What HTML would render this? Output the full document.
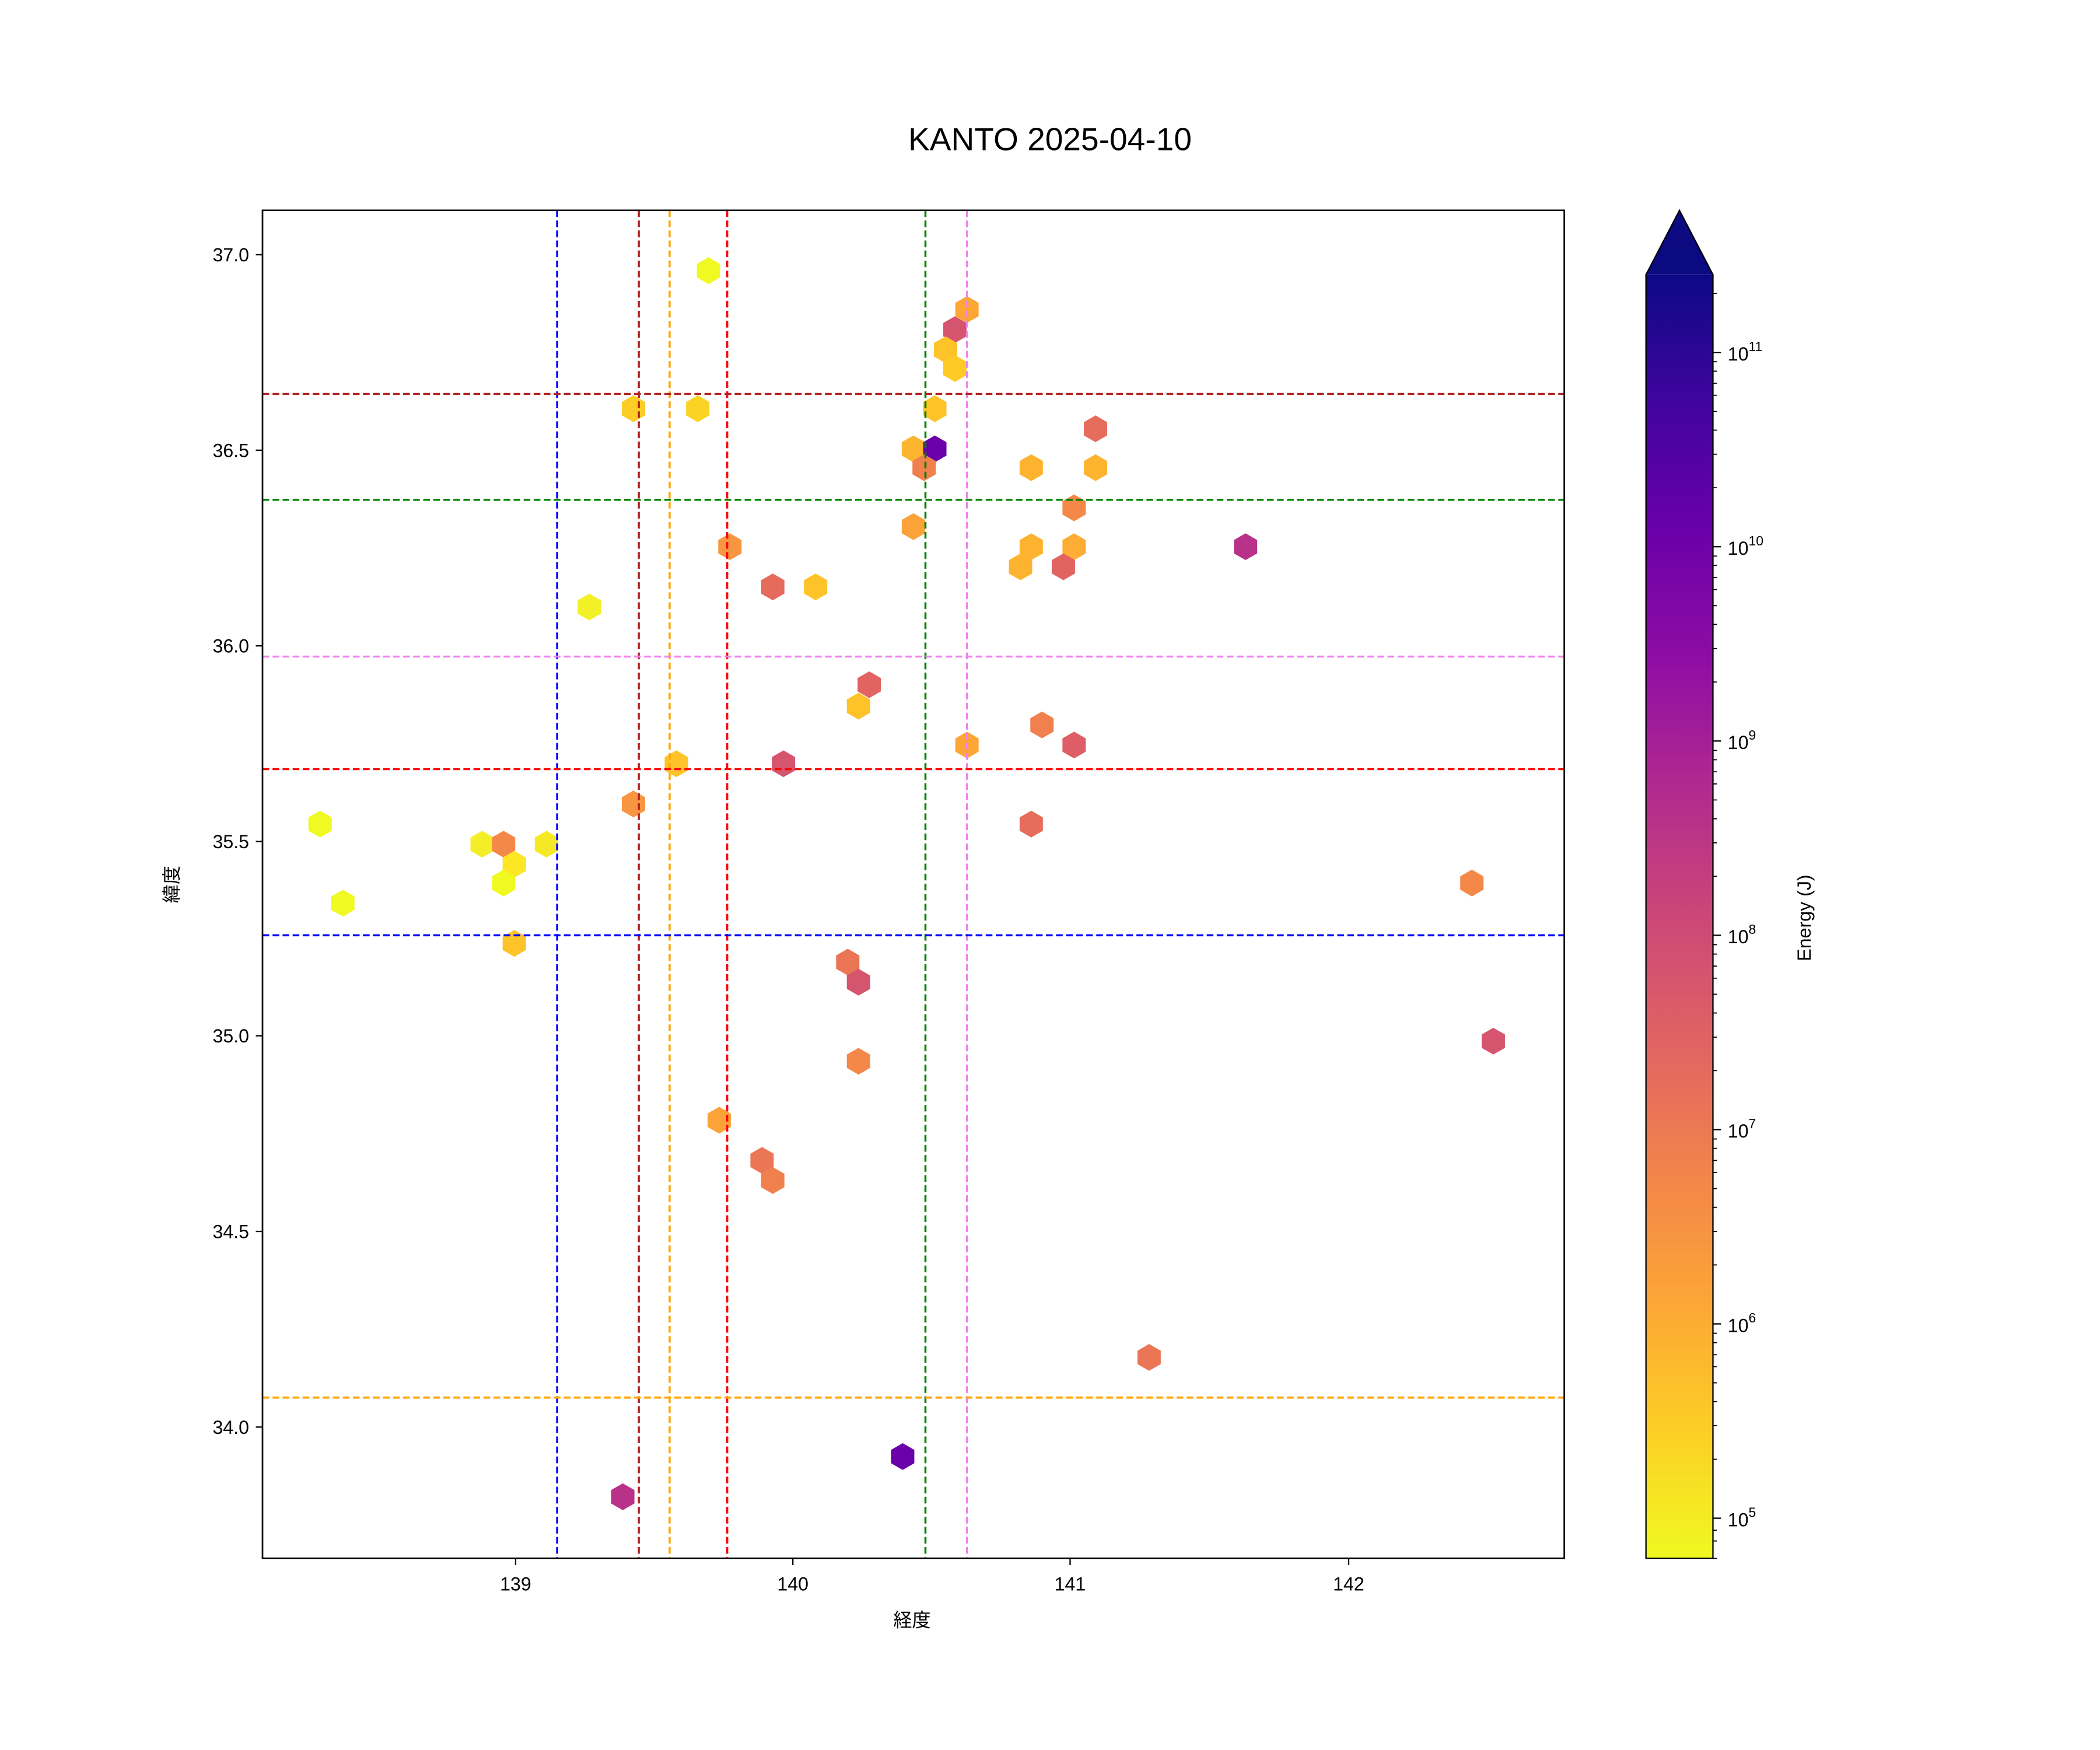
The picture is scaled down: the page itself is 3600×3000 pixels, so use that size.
<!DOCTYPE html>
<html><head><meta charset="utf-8"><style>
html,body{margin:0;padding:0;background:#fff;}
svg{display:block;}
text{font-family:"Liberation Sans","Noto Sans CJK JP",sans-serif;fill:#000;}
</style></head><body>
<svg width="3600" height="3000" viewBox="0 0 1568 1306" preserveAspectRatio="none" xmlns="http://www.w3.org/2000/svg">
<defs>
<linearGradient id="pl" x1="0" y1="1" x2="0" y2="0">
<stop offset="0" stop-color="#f0f921"/><stop offset="0.1" stop-color="#fcce25"/>
<stop offset="0.2" stop-color="#fca636"/><stop offset="0.3" stop-color="#f2844b"/>
<stop offset="0.4" stop-color="#e16462"/><stop offset="0.5" stop-color="#cc4778"/>
<stop offset="0.6" stop-color="#b12a90"/><stop offset="0.7" stop-color="#8f0da4"/>
<stop offset="0.8" stop-color="#6a00a8"/><stop offset="0.9" stop-color="#41049d"/>
<stop offset="1" stop-color="#0d0887"/>
</linearGradient>
<polygon id="h" points="0,-10 8.7,-5 8.7,5 0,10 -8.7,5 -8.7,-5"/>
</defs>
<rect width="1568" height="1306" fill="#fff"/>
<text x="784" y="112" font-size="24" text-anchor="middle">KANTO 2025-04-10</text>
<g>
<use href="#h" x="529" y="202" fill="#f0f921"/>
<use href="#h" x="722" y="231" fill="#fca636"/>
<use href="#h" x="713" y="246" fill="#d5546e"/>
<use href="#h" x="706" y="261" fill="#fdc328"/>
<use href="#h" x="713" y="275" fill="#fdca26"/>
<use href="#h" x="473" y="305" fill="#fcce25"/>
<use href="#h" x="521" y="305" fill="#fbd324"/>
<use href="#h" x="698" y="305" fill="#fdc328"/>
<use href="#h" x="818" y="320" fill="#e66c5c"/>
<use href="#h" x="682" y="335" fill="#fdb42f"/>
<use href="#h" x="698" y="335" fill="#6a00a8"/>
<use href="#h" x="690" y="349" fill="#f0804e"/>
<use href="#h" x="770" y="349" fill="#fdb32f"/>
<use href="#h" x="818" y="349" fill="#fdb42f"/>
<use href="#h" x="802" y="379" fill="#f48849"/>
<use href="#h" x="682" y="393" fill="#fba238"/>
<use href="#h" x="545" y="408" fill="#f89540"/>
<use href="#h" x="770" y="408" fill="#fdb32f"/>
<use href="#h" x="802" y="408" fill="#fdad33"/>
<use href="#h" x="930" y="408" fill="#b83289"/>
<use href="#h" x="762" y="423" fill="#fdb32f"/>
<use href="#h" x="794" y="423" fill="#e16462"/>
<use href="#h" x="577" y="438" fill="#e56b5d"/>
<use href="#h" x="609" y="438" fill="#fdc328"/>
<use href="#h" x="440" y="453" fill="#f2f127"/>
<use href="#h" x="649" y="511" fill="#e16462"/>
<use href="#h" x="641" y="527" fill="#fdc328"/>
<use href="#h" x="505" y="570" fill="#fdc328"/>
<use href="#h" x="585" y="570" fill="#d5546e"/>
<use href="#h" x="722" y="556" fill="#fca636"/>
<use href="#h" x="778" y="541" fill="#f0804e"/>
<use href="#h" x="802" y="556" fill="#dd5e66"/>
<use href="#h" x="473" y="600" fill="#f89540"/>
<use href="#h" x="770" y="615" fill="#e66c5c"/>
<use href="#h" x="239" y="615" fill="#f0f921"/>
<use href="#h" x="360" y="630" fill="#f3ee27"/>
<use href="#h" x="376" y="630" fill="#f48849"/>
<use href="#h" x="408" y="630" fill="#f5e926"/>
<use href="#h" x="384" y="645" fill="#fde725"/>
<use href="#h" x="376" y="659" fill="#f0f921"/>
<use href="#h" x="256" y="674" fill="#f0f921"/>
<use href="#h" x="1099" y="659" fill="#f48849"/>
<use href="#h" x="384" y="704" fill="#fdc328"/>
<use href="#h" x="633" y="718" fill="#eb7655"/>
<use href="#h" x="641" y="733" fill="#d5546e"/>
<use href="#h" x="1115" y="777" fill="#d5546e"/>
<use href="#h" x="641" y="792" fill="#f48849"/>
<use href="#h" x="537" y="836" fill="#fba238"/>
<use href="#h" x="569" y="866" fill="#eb7655"/>
<use href="#h" x="577" y="881" fill="#f0804e"/>
<use href="#h" x="858" y="1013" fill="#eb7655"/>
<use href="#h" x="674" y="1087" fill="#6a00a8"/>
<use href="#h" x="465" y="1117" fill="#b83289"/>
</g>
<g stroke-width="1.5" stroke-dasharray="5,2.5" fill="none">
<line x1="416" y1="157" x2="416" y2="1163" stroke="#0000ff"/>
<line x1="477" y1="157" x2="477" y2="1163" stroke="#b22222"/>
<line x1="500" y1="157" x2="500" y2="1163" stroke="#ffa500"/>
<line x1="543" y1="157" x2="543" y2="1163" stroke="#ff0000"/>
<line x1="691" y1="157" x2="691" y2="1163" stroke="#008000"/>
<line x1="722" y1="157" x2="722" y2="1163" stroke="#ee82ee"/>
<line x1="196" y1="294" x2="1168" y2="294" stroke="#b22222"/>
<line x1="196" y1="373" x2="1168" y2="373" stroke="#008000"/>
<line x1="196" y1="490" x2="1168" y2="490" stroke="#ee82ee"/>
<line x1="196" y1="574" x2="1168" y2="574" stroke="#ff0000"/>
<line x1="196" y1="698" x2="1168" y2="698" stroke="#0000ff"/>
<line x1="196" y1="1043" x2="1168" y2="1043" stroke="#ffa500"/>
</g>
<rect x="196" y="157" width="972" height="1006" fill="none" stroke="#000" stroke-width="1.2"/>
<g stroke="#000" stroke-width="1">
<line x1="385" y1="1163" x2="385" y2="1168"/><line x1="592" y1="1163" x2="592" y2="1168"/>
<line x1="799" y1="1163" x2="799" y2="1168"/><line x1="1007" y1="1163" x2="1007" y2="1168"/>
<line x1="191" y1="190" x2="196" y2="190"/><line x1="191" y1="336" x2="196" y2="336"/>
<line x1="191" y1="482" x2="196" y2="482"/><line x1="191" y1="628" x2="196" y2="628"/>
<line x1="191" y1="773" x2="196" y2="773"/><line x1="191" y1="919" x2="196" y2="919"/>
<line x1="191" y1="1065" x2="196" y2="1065"/>
</g>
<g font-size="14" text-anchor="middle">
<text x="385" y="1187">139</text><text x="592" y="1187">140</text>
<text x="799" y="1187">141</text><text x="1007" y="1187">142</text>
<text x="681" y="1214">経度</text>
</g>
<g font-size="14" text-anchor="end">
<text x="186" y="195">37.0</text><text x="186" y="341">36.5</text>
<text x="186" y="487">36.0</text><text x="186" y="633">35.5</text>
<text x="186" y="778">35.0</text><text x="186" y="924">34.5</text>
<text x="186" y="1070">34.0</text>
</g>
<text x="133" y="660" font-size="14" text-anchor="middle" transform="rotate(-90 133 660)">緯度</text>
<rect x="1229" y="205" width="50" height="958" fill="url(#pl)"/>
<polygon points="1229,205 1254,157 1279,205" fill="#0c0a80"/>
<polygon points="1229,1163 1229,205 1254,157 1279,205 1279,1163" fill="none" stroke="#000" stroke-width="1"/>
<g stroke="#000" stroke-width="1">
<line x1="1279" y1="1133" x2="1285" y2="1133"/><line x1="1279" y1="988" x2="1285" y2="988"/>
<line x1="1279" y1="843" x2="1285" y2="843"/><line x1="1279" y1="698" x2="1285" y2="698"/>
<line x1="1279" y1="553" x2="1285" y2="553"/><line x1="1279" y1="408" x2="1285" y2="408"/>
<line x1="1279" y1="263" x2="1285" y2="263"/>
</g>
<g font-size="14">
<text x="1290" y="1139">10<tspan font-size="10" dy="-7">5</tspan></text>
<text x="1290" y="994">10<tspan font-size="10" dy="-7">6</tspan></text>
<text x="1290" y="849">10<tspan font-size="10" dy="-7">7</tspan></text>
<text x="1290" y="704">10<tspan font-size="10" dy="-7">8</tspan></text>
<text x="1290" y="559">10<tspan font-size="10" dy="-7">9</tspan></text>
<text x="1290" y="414">10<tspan font-size="10" dy="-7">10</tspan></text>
<text x="1290" y="269">10<tspan font-size="10" dy="-7">11</tspan></text>
</g>
<text x="1352" y="685" font-size="14" text-anchor="middle" transform="rotate(-90 1352 685)">Energy (J)</text>
<g stroke="#000" stroke-width="0.8">
<path d="M1279 1163h3M1279 1150h3M1279 1142h3
M1279 1089h3M1279 1064h3M1279 1046h3M1279 1032h3M1279 1020h3M1279 1011h3M1279 1002h3M1279 995h3
M1279 944h3M1279 919h3M1279 901h3M1279 887h3M1279 875h3M1279 866h3M1279 857h3M1279 850h3
M1279 799h3M1279 774h3M1279 756h3M1279 742h3M1279 730h3M1279 721h3M1279 712h3M1279 705h3
M1279 654h3M1279 629h3M1279 611h3M1279 597h3M1279 585h3M1279 576h3M1279 567h3M1279 560h3
M1279 509h3M1279 484h3M1279 466h3M1279 452h3M1279 440h3M1279 431h3M1279 422h3M1279 415h3
M1279 364h3M1279 339h3M1279 321h3M1279 307h3M1279 295h3M1279 286h3M1279 277h3M1279 270h3
M1279 219h3"/>
</g>
</svg>
</body></html>
